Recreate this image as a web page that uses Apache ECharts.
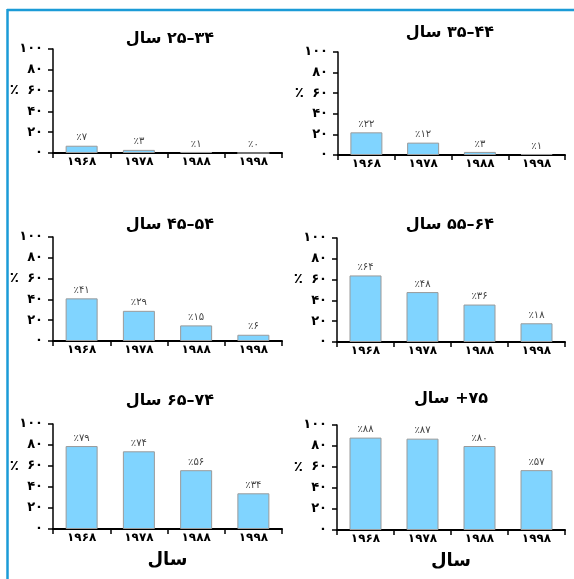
<!DOCTYPE html>
<html><head><meta charset="utf-8">
<script src="https://cdn.jsdelivr.net/npm/echarts@6/dist/echarts.min.js"></script>
<style>html,body{margin:0;padding:0;background:#fff}#c{width:574px;height:579px}</style>
</head><body><div id="c"></div>
<script>
// ---- data ----
const years = ['۱۹۶۸', '۱۹۷۸', '۱۹۸۸', '۱۹۹۸'];
const groupTitles = ['سال\u200E ۲۵–۳۴', 'سال\u200E ۳۵–۴۴', 'سال\u200E ۴۵–۵۴', 'سال\u200E ۵۵–۶۴', 'سال\u200E ۶۵–۷۴', 'سال\u200E +۷۵'];
const v25_34 = [7, 3, 1, 0];
const v35_44 = [22, 12, 3, 1];
const v45_54 = [41, 29, 15, 6];
const v55_64 = [64, 48, 36, 18];
const v65_74 = [79, 74, 56, 34];
const v75plus = [88, 87, 80, 57];
const yMin = 0, yMax = 100, yStep = 20;
const yNameLevel = 60;
const xAxisName = 'سال';
const pctSign = '٪';

const seriesValues = [v25_34, v35_44, v45_54, v55_64, v65_74, v75plus];

// ---- layout ----
const panels = [
  [53, 49, 282, 153], [338, 52, 565, 155],
  [53, 237, 282, 341], [337, 238, 565, 342],
  [53, 424, 282, 529], [337, 425, 565, 530]
];
const titlePos = [[170, 39], [450, 33], [170, 225], [450, 225], [170, 401], [451, 399]];
const FONT = 'DejaVu Sans';
const fa = s => String(s).replace(/\d/g, d => '۰۱۲۳۴۵۶۷۸۹'[d]);

const grid = [], xAxis = [], yAxis = [], series = [], graphic = [];
panels.forEach((p, i) => {
  grid.push({ left: p[0], top: p[1], width: p[2] - p[0], height: p[3] - p[1], containLabel: false });
  const bottomRow = i >= 4;
  xAxis.push({
    type: 'category', gridIndex: i, data: years,
    axisLine: { lineStyle: { color: '#000', width: 2 } },
    axisTick: { show: true, length: 5, lineStyle: { color: '#000', width: 1.5 } },
    axisLabel: { margin: 3, fontFamily: FONT, fontWeight: 'bold', fontSize: 12, color: '#000' },
    name: bottomRow ? xAxisName : '',
    nameLocation: 'middle', nameGap: 22,
    nameTextStyle: { fontFamily: FONT, fontWeight: 'bold', fontSize: 18, color: '#000' }
  });
  yAxis.push({
    type: 'value', gridIndex: i, min: yMin, max: yMax, interval: yStep,
    axisLine: { show: true, lineStyle: { color: '#000', width: 1.5 } },
    axisTick: { show: true, length: 5, lineStyle: { color: '#000', width: 1.5 } },
    splitLine: { show: false },
    axisLabel: { margin: 10, fontFamily: FONT, fontWeight: 'bold', fontSize: 13, color: '#000', formatter: v => fa(v) }
  });
  series.push({
    type: 'bar', xAxisIndex: i, yAxisIndex: i, data: seriesValues[i],
    barWidth: 32,
    itemStyle: { color: '#80D4FF', borderColor: '#9a9a9a', borderWidth: 1 },
    label: { show: true, position: 'top', distance: 3, fontFamily: FONT, fontSize: 10, color: '#444',
      formatter: d => pctSign + fa(d.value) }
  });
  graphic.push({
    type: 'text', x: titlePos[i][0], y: titlePos[i][1],
    style: { text: groupTitles[i], fill: '#000', font: 'bold 16px "' + FONT + '"', textAlign: 'center', textVerticalAlign: 'middle' }
  });
});
graphic.push({ type: 'line', shape: { x1: 7, y1: 10, x2: 574, y2: 10 }, style: { stroke: '#1B9BD7', lineWidth: 2.5 } });
graphic.push({ type: 'line', shape: { x1: 7.5, y1: 9, x2: 7.5, y2: 579 }, style: { stroke: '#1B9BD7', lineWidth: 2.5 } });

const chart = echarts.init(document.getElementById('c'), null, { renderer: 'canvas' });
chart.setOption({ animation: false, backgroundColor: '#fff', grid, xAxis, yAxis, series, graphic });

// y-axis name "٪" placed beside the 60 tick of each panel
const nameGraphics = panels.map((p, i) => {
  const y = chart.convertToPixel({ yAxisIndex: i }, yNameLevel);
  return {
    type: 'text', x: p[0] - 34, y: y,
    style: { text: pctSign, fill: '#000', font: 'bold 15px "' + FONT + '"', textAlign: 'right', textVerticalAlign: 'middle' }
  };
});
chart.setOption({ graphic: graphic.concat(nameGraphics) });
</script></body></html>
